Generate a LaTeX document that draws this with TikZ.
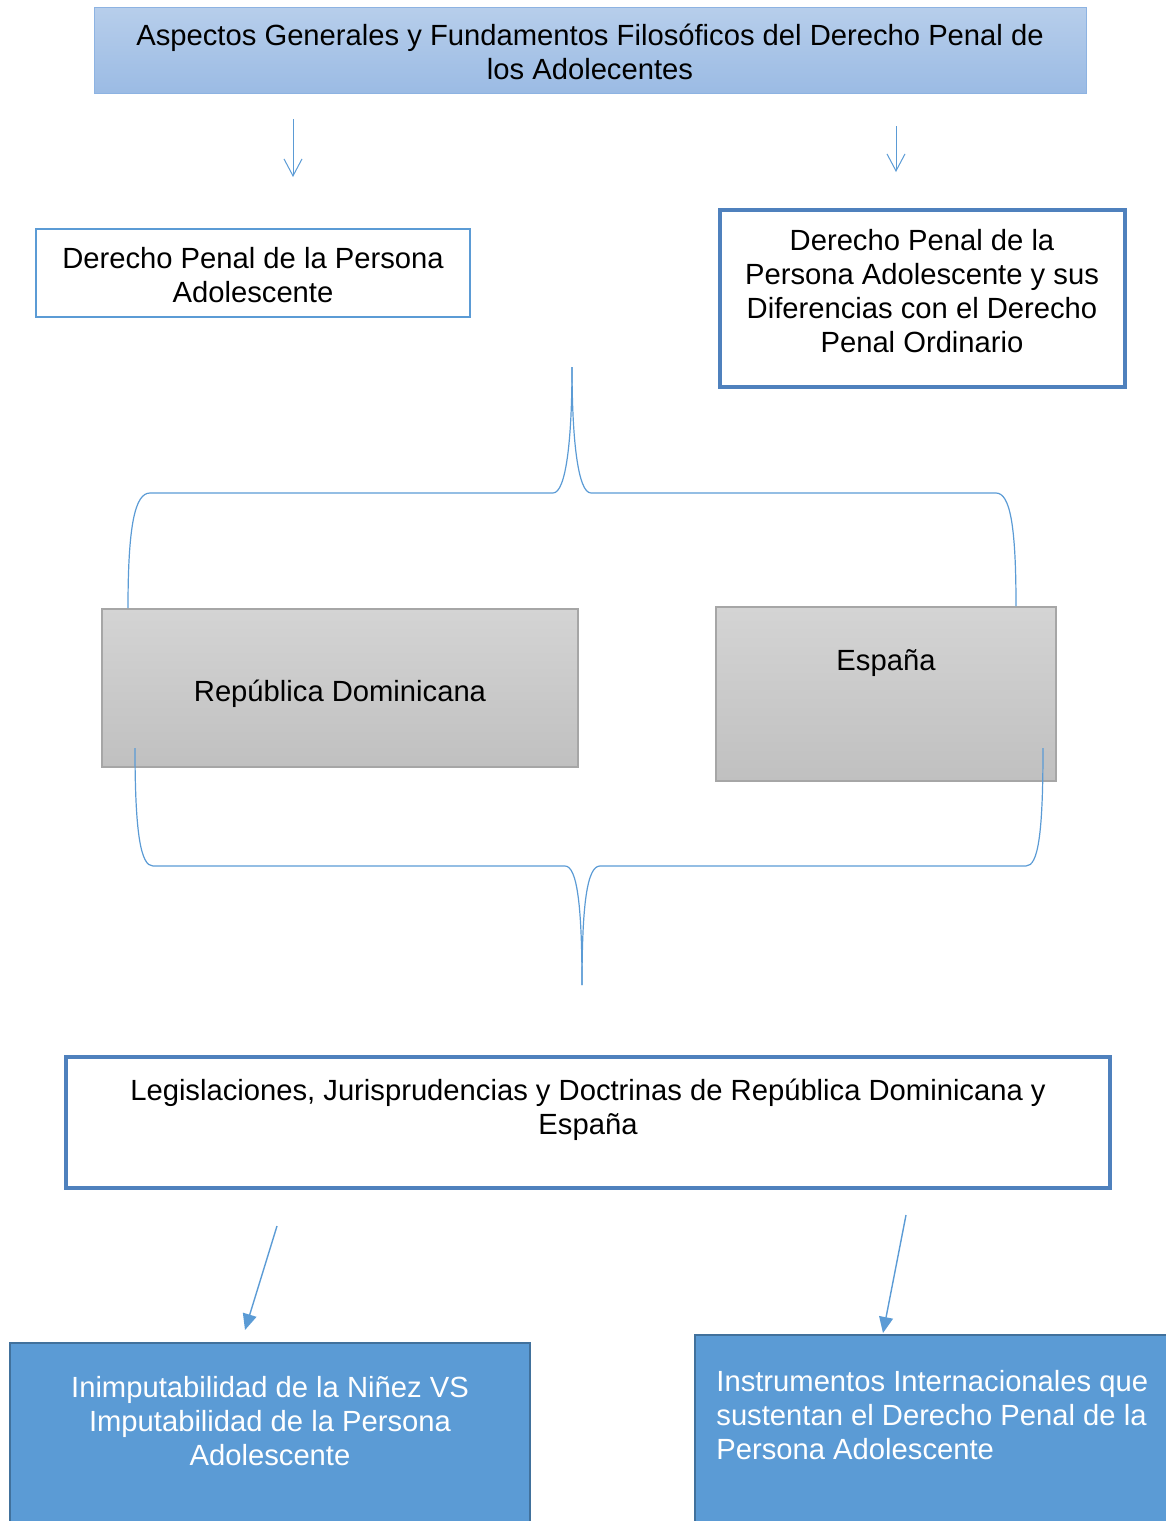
\documentclass[tikz,border=0pt]{standalone}
\usepackage{fontspec}
\setmainfont{Liberation Sans}
\usetikzlibrary{arrows.meta}
\definecolor{accent}{HTML}{5B9BD5}
\definecolor{darkacc}{HTML}{4F81BD}
\definecolor{bluebord}{HTML}{41719C}
\definecolor{toptop}{HTML}{B7CEEB}
\definecolor{topbot}{HTML}{9BBBE4}
\definecolor{topbord}{HTML}{8DB3E2}
\definecolor{graytop}{HTML}{D4D4D4}
\definecolor{graybot}{HTML}{C0C0C0}
\definecolor{graybord}{HTML}{A6A6A6}
\tikzset{
  box/.style={rectangle, inner sep=0pt, outer sep=0pt},
  headbox/.style={box, draw=topbord, line width=0.5pt, top color=toptop, bottom color=topbot},
  thinbox/.style={box, draw=accent, line width=1.2pt, fill=white},
  thickbox/.style={box, draw=darkacc, line width=2.2pt, fill=white},
  graybox/.style={box, draw=graybord, line width=0.7pt, top color=graytop, bottom color=graybot},
  bluebox/.style={box, draw=bluebord, line width=1pt, fill=accent},
  txt/.style={inner sep=0pt, align=center, font=\fontsize{14.6pt}{17pt}\selectfont},
  wtxt/.style={txt, text=white},
  openarrow/.style={draw=accent, line width=0.5pt, -{Straight Barb[length=8.5pt,width=9pt,line width=0.5pt]}},
  fillarrow/.style={draw=accent, line width=0.7pt, -{Triangle[length=8pt,width=7pt]}},
  bracestyle/.style={draw=accent, line width=0.6pt}
}
\begin{document}
\begin{tikzpicture}[x=0.5pt, y=-0.5pt]
\useasboundingbox (0,0) rectangle (1166,1521);
\clip (0,0) rectangle (1166,1521);
% boxes
\node[headbox, minimum width=496pt, minimum height=43pt] (head) at (590,50) {};
\node[txt] (headt) at (590,52) {Aspectos Generales y Fundamentos Filosóficos del Derecho Penal de\\los Adolecentes};
\node[thinbox, minimum width=217pt, minimum height=44pt] (boxa) at (253,273) {};
\node[txt] (boxat) at (253,275) {Derecho Penal de la Persona\\Adolescente};
\node[thickbox, minimum width=202.5pt, minimum height=88.5pt] (boxb) at (922.5,298.5) {};
\node[txt] (boxbt) at (922,291.5) {Derecho Penal de la\\Persona Adolescente y sus\\Diferencias con el Derecho\\Penal Ordinario};
\node[graybox, minimum width=238pt, minimum height=79pt] (rd) at (340,688) {};
\node[txt] (rdt) at (340,694) {República Dominicana};
\node[graybox, minimum width=170pt, minimum height=87pt] (es) at (886,694) {};
\node[txt] (est) at (886,663) {España};
\node[thickbox, minimum width=522pt, minimum height=65.5pt] (leg) at (588,1122.5) {};
\node[txt] (legt) at (588,1110) {Legislaciones, Jurisprudencias y Doctrinas de República Dominicana y\\España};
\node[bluebox, minimum width=260pt, minimum height=108.5pt] (imp) at (270,1451.5) {};
\node[wtxt] (impt) at (270,1421) {Inimputabilidad de la Niñez VS\\Imputabilidad de la Persona\\Adolescente};
\node[bluebox, minimum width=252.5pt, minimum height=112.5pt] (ins) at (947.5,1447.5) {};
\node[wtxt, align=left, anchor=west] (inst) at (716,1415) {Instrumentos Internacionales que\\sustentan el Derecho Penal de la\\Persona Adolescente};
% top arrows
\coordinate (a1s) at (293,119); \coordinate (a1e) at (293,177);
\coordinate (a2s) at (896,126); \coordinate (a2e) at (896,172);
\draw[openarrow] (a1s) -- (a1e);
\draw[openarrow] (a2s) -- (a2e);
% top brace
\coordinate (bt) at (572,367);
\coordinate (bl) at (128,608);
\coordinate (br) at (1016,606);
\draw[bracestyle] (bl) .. controls (128,525) and (135,493) .. (150,493) -- (553,493)
   .. controls (566,493) and (572,440) .. (bt);
\draw[bracestyle] (bt) .. controls (572,440) and (578,493) .. (591,493) -- (996,493)
   .. controls (1010,493) and (1016,525) .. (br);
% bottom brace
\coordinate (cb) at (582,985);
\coordinate (cl) at (135,748);
\coordinate (cr) at (1043,748);
\draw[bracestyle] (cl) .. controls (135,835) and (141,866) .. (153,866) -- (565,866)
   .. controls (577,866) and (582,905) .. (cb);
\draw[bracestyle] (cb) .. controls (582,905) and (587,866) .. (600,866) -- (1026,866)
   .. controls (1038,866) and (1043,835) .. (cr);
% bottom arrows
\coordinate (d1s) at (277,1226); \coordinate (d1e) at (245,1330);
\coordinate (d2s) at (906,1215); \coordinate (d2e) at (883,1333);
\draw[fillarrow] (d1s) -- (d1e);
\draw[fillarrow] (d2s) -- (d2e);
\end{tikzpicture}
\end{document}
